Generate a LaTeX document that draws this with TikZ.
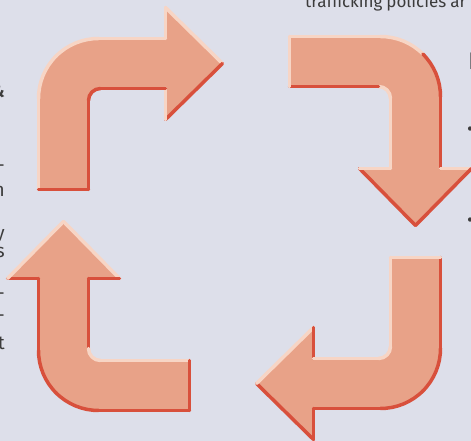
\documentclass[tikz,border=0pt]{standalone}
\usepackage{fontspec}
\setmainfont{Fira Sans}
\definecolor{pagebg}{HTML}{DDDFEA}
\definecolor{arrowfill}{HTML}{E8A288}
\definecolor{lt}{HTML}{F7D5C5}
\definecolor{dk}{HTML}{D8503C}
\definecolor{inkgray}{HTML}{3C3C3C}

\begin{document}
\begin{tikzpicture}[x=1pt, y=1pt, line join=round]

  \pgfmathsetmacro{\armw}{50}
  \pgfmathsetmacro{\tail}{151}
  \pgfmathsetmacro{\hw}{56}
  \pgfmathsetmacro{\rout}{60}
  \pgfmathsetmacro{\rin}{12}

  \tikzset{
    apply style/.code  = {\tikzset{#1}},
    arrow_face/.style  = {fill=arrowfill},
    arrow_edge/.style  = {line width=3.5pt, line cap=round},
    lit/.style         = {draw=lt},
    shd/.style         = {draw=dk},
    margin_text/.style = {inner sep=0pt, text=inkgray,
                          font=\fontsize{19}{22}\selectfont}
  }

  \useasboundingbox (0,0) rectangle (471,441);
  \fill[pagebg] (0,0) rectangle (471,441);
  \clip (0,0) rectangle (471,441);

  % text of the page around the figure, cut at the edges
  \node[margin_text, anchor=base west, font=\fontsize{17}{20}\selectfont] (toptext) at (305,433)
    {trafficking\hspace{4pt}policies\hspace{4pt}ar};
  \foreach \py/\ch [count=\i] in {98/{\bfseries\&},172/-,197/n,240/y,258/s,300/-,322/-,350/t}
    \node[margin_text, anchor=base east] (lfrag\i) at (5,441-\py) {\ch};
  \node[margin_text, anchor=base west, font=\fontsize{24}{26}\selectfont] (rfrag1) at (468,371) {I};
  \node[margin_text, anchor=west] (rfrag2) at (467,310) {•};
  \node[margin_text, anchor=west] (rfrag3) at (467,219) {•};

  % the four bent arrows, edges lit from above
  \foreach \ox/\oy/\ang/\len/\ea/\eb/\ec/\ed/\ee/\ef/\eg/\eh/\ei/\ej/\ek/\el in {
    38.5/402.5/0/184/lit/lit/lit/lit/lit/lit/shd/lit/shd/shd/shd/shd,
    440.5/404.5/-90/189/lit/lit/shd/shd/lit/shd/shd/lit/lit/lit/shd/lit,
    440.5/32.5/180/184/shd/shd/shd/shd/shd/shd/lit/shd/lit/lit/lit/lit,
    38.5/30.5/90/189/shd/shd/shd/shd/shd/lit/lit/shd/shd/lit/lit/shd
  }{
    \pgfmathsetmacro{\hb}{\len-57}
    \begin{scope}[shift={(\ox,\oy)}, rotate=\ang]
      \fill[arrow_face] (0,-\tail) -- (0,-\rout)
        arc[start angle=180, end angle=90, radius=\rout] --
        (\hb,0) -- (\hb,{\hw-\armw/2}) -- (\len,{-\armw/2}) --
        (\hb,{-\armw/2-\hw}) -- (\hb,-\armw) -- ({\armw+\rin},-\armw)
        arc[start angle=90, end angle=180, radius=\rin] --
        (\armw,-\tail) -- cycle;
      \draw[arrow_edge, apply style/.expand once=\ea] (0,-\tail) -- (0,-\rout);
      \draw[arrow_edge, apply style/.expand once=\eb] (0,-\rout)
        arc[start angle=180, end angle=135, radius=\rout];
      \draw[arrow_edge, apply style/.expand once=\ec] (\rout,-\rout) ++(135:\rout)
        arc[start angle=135, end angle=90, radius=\rout];
      \draw[arrow_edge, apply style/.expand once=\ed] (\rout,0) -- (\hb,0);
      \draw[arrow_edge, apply style/.expand once=\ee] (\hb,0) -- (\hb,{\hw-\armw/2});
      \draw[arrow_edge, apply style/.expand once=\ef] (\hb,{\hw-\armw/2}) -- (\len,{-\armw/2});
      \draw[arrow_edge, apply style/.expand once=\eg] (\len,{-\armw/2}) -- (\hb,{-\armw/2-\hw});
      \draw[arrow_edge, apply style/.expand once=\eh] (\hb,{-\armw/2-\hw}) -- (\hb,-\armw);
      \draw[arrow_edge, apply style/.expand once=\ei] (\hb,-\armw) -- ({\armw+\rin},-\armw);
      \draw[arrow_edge, apply style/.expand once=\ej] ({\armw+\rin},-\armw)
        arc[start angle=90, end angle=180, radius=\rin];
      \draw[arrow_edge, apply style/.expand once=\ek] (\armw,{-\armw-\rin}) -- (\armw,-\tail);
      \draw[arrow_edge, apply style/.expand once=\el] (\armw,-\tail) -- (0,-\tail);
    \end{scope}
  }
\end{tikzpicture}
\end{document}
